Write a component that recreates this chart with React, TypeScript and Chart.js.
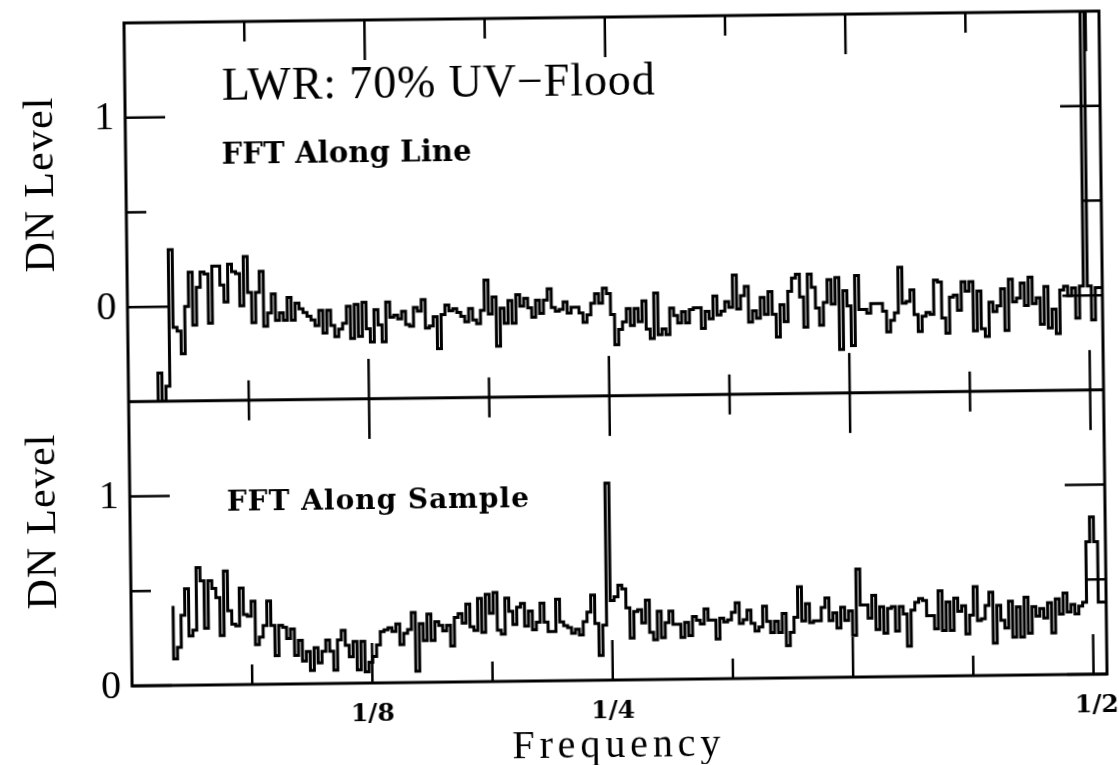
import React, { useEffect, useRef } from 'react';
import { Chart, registerables } from 'chart.js';

Chart.register(...registerables);

// ---------- text ----------
const topTitle = 'LWR: 70% UV\u2212Flood';
const topPanelLabel = 'FFT Along Line';
const bottomPanelLabel = 'FFT Along Sample';
const yAxisTitle = 'DN Level';
const xAxisTitle = 'Frequency';

// ---------- ticks ----------
const xTickValues = [1 / 16, 1 / 8, 3 / 16, 1 / 4, 5 / 16, 3 / 8, 7 / 16, 1 / 2];
const xTickLabels = ['', '1/8', '', '1/4', '', '', '', '1/2'];
const topYTicks = [0, 0.5, 1];
const topYLabels = ['0', '', '1'];
const bottomYTicks = [0, 0.5, 1];
const bottomYLabels = ['0', '', '1'];

// ---------- data (FFT bins) ----------
const topStartFreq = 0.0154;
const topBinWidth = 0.00205;
const topValues = [
  -0.5, -0.35, -0.5, -0.42, 0.30, -0.11, -0.13, -0.25, 0, 0.18, -0.10, 0.10, 0.18, 0.17, -0.09, 0.21, 0.21, 0.11, 0.02, 0.22,
  0.18, 0.17, 0, 0.26, 0.07, -0.09, 0.07, 0.18, -0.11, -0.04, 0.06, -0.08, -0.04, -0.08, 0.04, -0.08, 0.01, -0.02, -0.04, -0.06,
  -0.08, -0.11, -0.03, -0.15, -0.03, -0.11, -0.17, -0.13, -0.10, -0.01, -0.18, 0, -0.17, 0.01, -0.13, -0.20, -0.03, -0.11, -0.20, 0.01,
  -0.07,
  -0.06, -0.08, -0.04, -0.11, -0.12, -0.02, -0.04, 0.02, -0.13, -0.12, -0.07, -0.24, -0.06, -0.01, -0.04, -0.03, -0.05, -0.07, -0.10, -0.03,
  -0.09, -0.11, -0.04, 0.12, -0.06, 0.03, -0.23, -0.03, -0.11, 0.01, -0.11, 0.04, -0.02, 0.02, -0.03, -0.08, 0.01, -0.06, 0.01, 0.07,
  -0.03, -0.05, -0.04, 0, -0.06, -0.03, -0.03, -0.06, -0.11, -0.07, -0.01, 0.04, -0.01, 0.07, 0.04, -0.07, -0.23, -0.15, -0.11, -0.04,
  -0.13, -0.04, -0.11, 0, -0.15, -0.20, 0.04, -0.18, -0.15, -0.18, -0.04, -0.08, -0.12, -0.06, -0.12, -0.05, -0.04, -0.04, -0.15, -0.06,
  -0.10, 0.02, -0.08, -0.06, -0.01, -0.04, 0.13, -0.05, 0.02, 0.07, -0.12, -0.06, -0.10, 0.01, -0.08, 0.04, -0.08, -0.20, -0.03, -0.12,
  0.04, 0.11, 0.13, 0.01, -0.15, 0.13, 0.06, -0.05, -0.14, -0.02, 0.10, -0.03, 0.11, -0.27, 0.04, -0.04, -0.25, 0.12, -0.06,
  -0.06, -0.08, -0.03, -0.03, -0.03, -0.07, -0.18, -0.12, -0.08, 0.16, -0.03, -0.02, 0.04, -0.09, -0.18, -0.10, -0.08, -0.09, 0.09, 0.08,
  -0.11, -0.19, 0, 0.01, -0.07, 0.08, 0.03, 0.08, -0.18, 0.03, -0.17, -0.21, -0.03, -0.08, -0.05, 0.04, -0.18, 0.09, -0.03, -0.01,
  0.07, -0.05, 0.10, -0.04, -0.01, -0.15, 0.05, -0.17, -0.07, -0.20, 0.03, 0.05, 0, 0.04, -0.12, 0.05, 1.5, 0.05, -0.13, 0.04,
];

const bottomStartFreq = 0.0218;
const bottomBinWidth = 0.00203;
const bottomValues = [
  0.42, 0.14, 0.20, 0.37, 0.51, 0.26, 0.29, 0.62, 0.55, 0.30, 0.55, 0.51, 0.46, 0.26, 0.60, 0.39, 0.32, 0.31, 0.51, 0.37,
  0.36, 0.44, 0.21, 0.25, 0.31, 0.44, 0.31, 0.15, 0.31, 0.30, 0.24, 0.29, 0.15, 0.23, 0.12, 0.17, 0.07, 0.19, 0.11, 0.17,
  0.23, 0.17, 0.07, 0.23, 0.28, 0.20, 0.14, 0.22, 0.07, 0.22, 0.06, 0.11, 0.14, 0.20, 0.27, 0.28, 0.29,
  0.27, 0.31, 0.20, 0.26, 0.28, 0.37, 0.06, 0.31, 0.22, 0.36, 0.22, 0.32, 0.30, 0.27, 0.30, 0.19, 0.34, 0.36, 0.31, 0.41,
  0.29, 0.27, 0.44, 0.26, 0.46, 0.36, 0.47, 0.27, 0.25, 0.44, 0.37, 0.30, 0.39, 0.41, 0.29, 0.37, 0.27, 0.31, 0.41, 0.31,
  0.26, 0.26, 0.43, 0.31, 0.29, 0.28, 0.25, 0.27, 0.24, 0.31, 0.36, 0.45, 0.30, 0.13, 0.29, 1.04, 0.42, 0.44, 0.50,
  0.48, 0.38, 0.22, 0.36, 0.37, 0.30, 0.42, 0.25, 0.21, 0.36, 0.22, 0.30, 0.36, 0.29, 0.29, 0.22, 0.30, 0.23, 0.33, 0.31,
  0.29, 0.37, 0.31, 0.31, 0.21, 0.32, 0.30, 0.31, 0.35, 0.40, 0.29, 0.31, 0.36, 0.29, 0.25, 0.27, 0.38, 0.30, 0.24, 0.30,
  0.24, 0.34, 0.17, 0.24, 0.32, 0.48, 0.30, 0.39, 0.29, 0.30, 0.30, 0.37, 0.42, 0.30, 0.34, 0.26, 0.37, 0.30, 0.35, 0.22,
  0.57, 0.38,
  0.38, 0.31, 0.43, 0.25, 0.37, 0.23, 0.36, 0.37, 0.24, 0.37, 0.33, 0.16, 0.35, 0.39, 0.41, 0.40, 0.32, 0.32, 0.25, 0.45,
  0.24, 0.39, 0.24, 0.41, 0.34, 0.37, 0.22, 0.32, 0.47, 0.29, 0.30, 0.37, 0.44, 0.17, 0.37, 0.29, 0.25, 0.39, 0.20, 0.36,
  0.20, 0.41, 0.22, 0.36, 0.31, 0.35, 0.30, 0.38, 0.22, 0.40, 0.32, 0.43, 0.33, 0.37, 0.32, 0.36, 0.38, 0.70, 0.83, 0.70,
  0.38,
];

function stepPoints(start: number, width: number, vals: number[]) {
  const pts = vals.map((v, i) => ({ x: start + i * width, y: v }));
  pts.push({ x: start + vals.length * width, y: vals[vals.length - 1] });
  return pts;
}

const SERIF = '"Liberation Serif", "Times New Roman", serif';
const SLAB = '"DejaVu Serif", serif';

function fitText(
  ctx: CanvasRenderingContext2D,
  text: string,
  x: number,
  y: number,
  font: string,
  width: number | null,
  align: 'left' | 'center' | 'right'
) {
  ctx.font = font;
  (ctx as any).letterSpacing = '0px';
  const w0 = ctx.measureText(text).width;
  let ls = 0;
  if (width !== null && text.length > 1) ls = (width - w0) / (text.length - 1);
  const total = w0 + ls * (text.length - 1);
  let sx = x;
  if (align === 'center') sx = x - total / 2;
  if (align === 'right') sx = x - total;
  (ctx as any).letterSpacing = ls + 'px';
  ctx.textAlign = 'left';
  ctx.fillText(text, sx, y);
  (ctx as any).letterSpacing = '0px';
}

const framePlugin = {
  id: 'framePlugin',
  afterDraw(chart: any) {
    const { ctx, chartArea: a, scales } = chart;
    const xs = scales.x;
    const yt = scales.yTop;
    const yb = scales.yBot;
    const line = (x1: number, y1: number, x2: number, y2: number) => {
      ctx.beginPath();
      ctx.moveTo(x1, y1);
      ctx.lineTo(x2, y2);
      ctx.stroke();
    };
    ctx.save();
    ctx.strokeStyle = '#000';
    ctx.fillStyle = '#000';
    ctx.lineWidth = 3;
    ctx.strokeRect(a.left, a.top, a.right - a.left, a.bottom - a.top);
    const divY = yt.bottom;
    line(a.left, divY, a.right, divY);

    ctx.lineWidth = 2.5;
    xTickValues.forEach((f, i) => {
      const px = xs.getPixelForValue(f);
      const len = i % 2 === 1 ? 40 : 20;
      line(px, a.top, px, a.top + len);
      line(px, divY, px, divY - len);
      line(px, divY, px, divY + len);
      line(px, a.bottom, px, a.bottom - len);
    });
    const yTicks = (scale: any, vals: number[], labels: string[]) => {
      vals.forEach((v, i) => {
        const py = scale.getPixelForValue(v);
        const len = labels[i] ? 40 : 20;
        line(a.left, py, a.left + len, py);
        line(a.right, py, a.right - len, py);
      });
    };
    yTicks(yt, topYTicks, topYLabels);
    yTicks(yb, bottomYTicks, bottomYLabels);

    // y tick labels
    ctx.textBaseline = 'middle';
    const yLab = (scale: any, vals: number[], labels: string[]) => {
      vals.forEach((v, i) => {
        if (!labels[i]) return;
        fitText(ctx, labels[i], a.left - 11, scale.getPixelForValue(v) + 1, '40px ' + SERIF, null, 'right');
      });
    };
    yLab(yt, topYTicks, topYLabels);
    yLab(yb, bottomYTicks, bottomYLabels);

    // x tick labels
    ctx.textBaseline = 'middle';
    xTickValues.forEach((f, i) => {
      if (!xTickLabels[i]) return;
      const px = xs.getPixelForValue(f) + (i === 7 ? 3 : 0);
      fitText(ctx, xTickLabels[i], px, a.bottom + 31, 'bold 25px ' + SLAB, null, 'center');
    });

    // axis titles
    ctx.textBaseline = 'alphabetic';
    fitText(ctx, xAxisTitle, (a.left + a.right) / 2 - 4, 757, '40px ' + SERIF, 208, 'center');
    const vTitle = (cx: number, cy: number) => {
      ctx.save();
      ctx.translate(cx, cy);
      ctx.rotate(-Math.PI / 2);
      fitText(ctx, yAxisTitle, 0, 0, '42px ' + SERIF, 175, 'center');
      ctx.restore();
    };
    vTitle(55, 178);
    vTitle(53, 515);

    // in-plot texts
    fitText(ctx, topTitle, a.left + 97, 95, '46px ' + SERIF, 433, 'left');
    fitText(ctx, topPanelLabel, a.left + 96, 159, 'bold 29px ' + SLAB, 250, 'left');
    fitText(ctx, bottomPanelLabel, a.left + 97, 506, 'bold 28px ' + SLAB, 302, 'left');
    ctx.restore();
  },
};

export default function App() {
  const ref = useRef<HTMLCanvasElement | null>(null);
  useEffect(() => {
    if (!ref.current) return;
    const chart = new Chart(ref.current, {
      type: 'line',
      data: {
        datasets: [
          {
            label: topPanelLabel,
            data: stepPoints(topStartFreq, topBinWidth, topValues),
            yAxisID: 'yTop',
            xAxisID: 'x',
            stepped: 'after',
            borderColor: '#000',
            borderWidth: 3,
            pointRadius: 0,
            fill: false,
          },
          {
            label: bottomPanelLabel,
            data: stepPoints(bottomStartFreq, bottomBinWidth, bottomValues),
            yAxisID: 'yBot',
            xAxisID: 'x',
            stepped: 'after',
            borderColor: '#000',
            borderWidth: 3,
            pointRadius: 0,
            fill: false,
          },
        ],
      },
      options: {
        responsive: false,
        animation: false,
        devicePixelRatio: 1,
        layout: { padding: { left: 128, right: 16, top: 17, bottom: 85 } },
        plugins: { legend: { display: false }, tooltip: { enabled: false }, title: { display: false } },
        scales: {
          x: { type: 'linear', min: 0, max: 0.507, display: false },
          yTop: { type: 'linear', min: -0.5, max: 1.5, position: 'left', stack: 'panels', stackWeight: 2, weight: 1, display: false },
          yBot: { type: 'linear', min: 0, max: 1.5, position: 'left', stack: 'panels', stackWeight: 1.5, weight: 0, display: false },
        },
      },
      plugins: [framePlugin],
    } as any);
    return () => chart.destroy();
  }, []);
  return (
    <div style={{ position: 'fixed', left: 0, top: 0, width: 1119, height: 765, background: '#fff' }}>
      <canvas
        ref={ref}
        width={1119}
        height={765}
        style={{
          display: 'block',
          width: 1119,
          height: 765,
          transform: 'rotate(-0.7deg)',
          transformOrigin: '615px 348px',
        }}
      />
    </div>
  );
}
